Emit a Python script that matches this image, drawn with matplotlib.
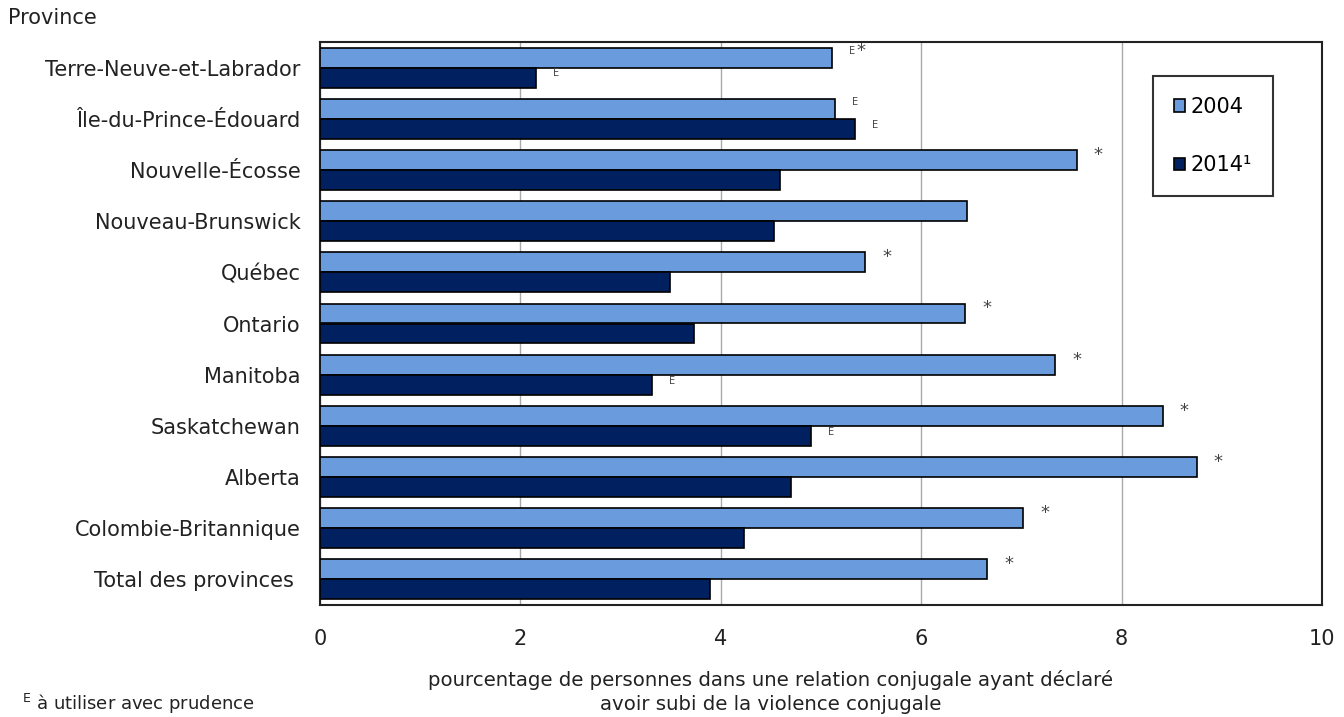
import numpy as np
import matplotlib.pyplot as plt

# Spousal violence by province, 2004 vs 2014 (percent)
provinces = ["Terre-Neuve-et-Labrador", "Île-du-Prince-Édouard", "Nouvelle-Écosse",
             "Nouveau-Brunswick", "Québec", "Ontario", "Manitoba", "Saskatchewan",
             "Alberta", "Colombie-Britannique", "Total des provinces "]
val_2004 = [5.11, 5.14, 7.55, 6.46, 5.44, 6.44, 7.34, 8.41, 8.75, 7.02, 6.66]
val_2014 = [2.16, 5.34, 4.59, 4.53, 3.49, 3.73, 3.31, 4.90, 4.70, 4.23, 3.89]
# notes next to each bar (E = use with caution, * = significant difference)
note_2004 = ["E*", "E", "*", "", "*", "*", "*", "*", "*", "*", "*"]
note_2014 = ["E", "E", "", "", "", "", "E", "E", "", "", ""]

light = "#6A9BDC"
dark = "#002060"
txt = "#222222"

fig = plt.figure(figsize=(13.44, 7.17), dpi=100)
ax = fig.add_axes([320/1344, 1-605/717, 1002/1344, 563/717])

y = np.arange(len(provinces))
h = 0.39
ax.barh(y - h/2, val_2004, height=h, color=light, edgecolor="black", linewidth=1.2, label="2004", zorder=3)
ax.barh(y + h/2, val_2014, height=h, color=dark, edgecolor="black", linewidth=1.2, label="2014¹", zorder=3)

for i in range(len(provinces)):
    n = note_2004[i]
    if n:
        if n.startswith("E"):
            ax.text(val_2004[i] + 0.17, y[i] - h/2 - 0.13, "E", fontsize=7, color="#444444",
                    va="center", ha="left")
            if n.endswith("*"):
                ax.text(val_2004[i] + 0.24, y[i] - h/2 - 0.12, "*", fontsize=13, color="#444444",
                        va="center", ha="left")
        else:
            ax.text(val_2004[i] + 0.17, y[i] - h/2 - 0.1, "*", fontsize=13, color="#444444",
                    va="center", ha="left")
    if note_2014[i]:
        ax.text(val_2014[i] + 0.17, y[i] + h/2 - 0.08, note_2014[i], fontsize=7,
                color="#444444", va="center", ha="left")

ax.set_xlim(0, 10)
ax.set_ylim(len(provinces) - 0.5, -0.5)
ax.set_xticks([0, 2, 4, 6, 8, 10])
ax.set_yticks(y)
ax.set_yticklabels(provinces)
ax.tick_params(axis="both", length=0, labelsize=15, colors=txt)
ax.tick_params(axis="x", pad=17)
ax.tick_params(axis="y", pad=14)
ax.xaxis.grid(True, color="#AAAAAA", linewidth=1, zorder=0)
for s in ax.spines.values():
    s.set_linewidth(1.5)
    s.set_color(txt)

leg = ax.legend(loc="upper right", bbox_to_anchor=(0.961, 0.958), fontsize=15, frameon=True,
                fancybox=False, edgecolor="black", handlelength=0.55, handleheight=0.55,
                handletextpad=0.25, labelspacing=1.85, borderpad=1.0)
leg.get_frame().set_linewidth(1.5)

fig.text(8/1344, 1-18/717, "Province", fontsize=15, color=txt, va="center", ha="left")
fig.text(771/1344, 1-692/717,
         "pourcentage de personnes dans une relation conjugale ayant déclaré\navoir subi de la violence conjugale",
         fontsize=14.2, color=txt, ha="center", va="center", linespacing=1.3)
fig.text(22/1344, 1/717, "$^{\\mathrm{E}}$ à utiliser avec prudence", fontsize=13,
         color=txt, ha="left", va="bottom")

fig.savefig("out.png", dpi=100)
